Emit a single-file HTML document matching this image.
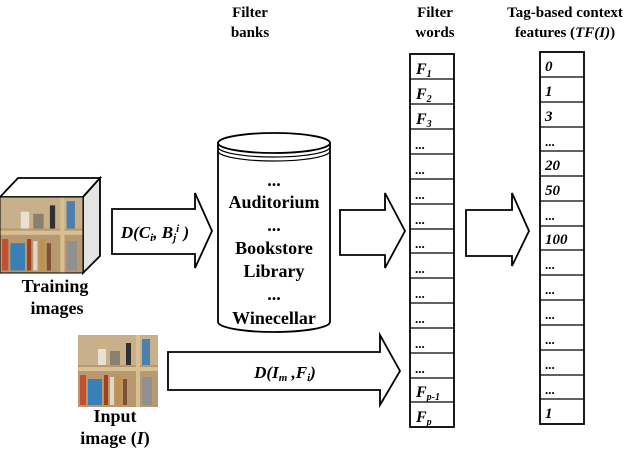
<!DOCTYPE html>
<html><head><style>
body{margin:0;background:#fff;width:640px;height:449px;overflow:hidden;font-family:"Liberation Serif",serif;}
svg text{font-family:"Liberation Serif",serif;font-weight:bold;}
</style></head><body>
<svg width="640" height="449" viewBox="0 0 640 449" xmlns="http://www.w3.org/2000/svg">
<defs>
<g id="shelf">
<rect x="0" y="0" width="80" height="72" fill="#b89870"/>
<rect x="0" y="0" width="80" height="30" fill="#c8b08a"/>
<rect x="0" y="32" width="80" height="4" fill="#d8c090"/>
<rect x="58" y="0" width="4" height="72" fill="#d8c090"/>
<rect x="64" y="4" width="8" height="26" fill="#4a7fb0"/>
<rect x="20" y="14" width="8" height="16" fill="#e8e0d0"/>
<rect x="32" y="16" width="10" height="14" fill="#8a8070"/>
<rect x="48" y="8" width="5" height="22" fill="#303030"/>
<rect x="2" y="40" width="6" height="30" fill="#c05030"/>
<rect x="10" y="44" width="14" height="26" fill="#3a80b8"/>
<rect x="26" y="40" width="4" height="30" fill="#a04020"/>
<rect x="32" y="42" width="4" height="28" fill="#e0d8c0"/>
<rect x="38" y="40" width="5" height="30" fill="#c09050"/>
<rect x="45" y="44" width="4" height="26" fill="#805030"/>
<rect x="64" y="42" width="10" height="28" fill="#909090"/>
</g>
</defs>
<g text-anchor="middle" font-size="15">
<text x="250" y="17">Filter</text><text x="250" y="37">banks</text>
<text x="435" y="17">Filter</text><text x="435" y="37">words</text>
<text x="565" y="17">Tag-based context</text><text x="565" y="37">features (<tspan font-style="italic">TF(I)</tspan>)</text>
</g>
<!-- cube -->
<polygon points="0,197 18,178 100,178 83,197" fill="#fff" stroke="#000" stroke-width="1.8"/>
<polygon points="83,197 100,178 100,256 83,273" fill="#e4e4e4" stroke="#000" stroke-width="1.8"/>
<g transform="translate(0,197) scale(1.04,1.05)"><use href="#shelf"/></g>
<rect x="0" y="197" width="83" height="76" fill="none" stroke="#000" stroke-width="1"/>
<g text-anchor="middle" font-size="18"><text x="55" y="292">Training</text><text x="57" y="314">images</text></g>
<!-- input image -->
<g transform="translate(78,335)"><use href="#shelf"/></g>
<g text-anchor="middle" font-size="18"><text x="115" y="422">Input</text><text x="115" y="444">image (<tspan font-style="italic">I</tspan>)</text></g>
<!-- arrow 1 -->
<polygon points="112,209 195,209 195,193 212,231 195,268 195,254 112,254" fill="#fff" stroke="#000" stroke-width="1.8"/>
<text x="155" y="238" text-anchor="middle" font-size="17" font-style="italic">D(C<tspan font-size="11" dy="3">i</tspan><tspan dy="-3">, B</tspan><tspan font-size="11" dy="3">j</tspan><tspan font-size="11" dy="-9">i</tspan><tspan dy="6"> )</tspan></text>
<!-- cylinder -->
<path d="M218,143 L218,322 A56,10 0 0 0 330,322 L330,143" fill="#fff" stroke="#000" stroke-width="1.8"/>
<ellipse cx="274" cy="143" rx="56" ry="10" fill="#fff" stroke="#000" stroke-width="1.8"/>
<path d="M218,147 A56,10 0 0 0 330,147 M218,151 A56,10 0 0 0 330,151" fill="none" stroke="#000" stroke-width="1.2"/>
<g text-anchor="middle" font-size="18">
<text x="274" y="186">...</text><text x="274" y="208">Auditorium</text>
<text x="274" y="231">...</text><text x="274" y="254">Bookstore</text>
<text x="274" y="277">Library</text><text x="274" y="300">...</text>
<text x="274" y="324">Winecellar</text>
</g>
<!-- arrow 2 -->
<polygon points="340,210 385,210 385,193 405,231 385,268 385,255 340,255" fill="#fff" stroke="#000" stroke-width="1.8"/>
<!-- arrow 3 -->
<polygon points="168,352 380,352 380,335 400,371 380,405 380,390 168,390" fill="#fff" stroke="#000" stroke-width="1.8"/>
<text x="285" y="378" text-anchor="middle" font-size="17" font-style="italic">D(I<tspan font-size="11" dy="3">m</tspan><tspan dy="-3"> ,F</tspan><tspan font-size="11" dy="3">i</tspan><tspan dy="-3">)</tspan></text>
<!-- arrow 4 -->
<polygon points="466,210 512,210 512,193 529,231 512,266 512,256 466,256" fill="#fff" stroke="#000" stroke-width="1.8"/>
<g stroke="#000" stroke-width="1.8" fill="#fff">
<rect x="410" y="54" width="44" height="373"/>
<rect x="540" y="52" width="44" height="372"/>
</g>
<g stroke="#000" stroke-width="1.3">
<line x1="410" y1="79" x2="454" y2="79"/><line x1="410" y1="104" x2="454" y2="104"/><line x1="410" y1="129" x2="454" y2="129"/><line x1="410" y1="154" x2="454" y2="154"/><line x1="410" y1="179" x2="454" y2="179"/><line x1="410" y1="204" x2="454" y2="204"/><line x1="410" y1="229" x2="454" y2="229"/><line x1="410" y1="253" x2="454" y2="253"/><line x1="410" y1="278" x2="454" y2="278"/><line x1="410" y1="303" x2="454" y2="303"/><line x1="410" y1="328" x2="454" y2="328"/><line x1="410" y1="353" x2="454" y2="353"/><line x1="410" y1="378" x2="454" y2="378"/><line x1="410" y1="402" x2="454" y2="402"/>
<line x1="540" y1="77" x2="584" y2="77"/><line x1="540" y1="102" x2="584" y2="102"/><line x1="540" y1="127" x2="584" y2="127"/><line x1="540" y1="151" x2="584" y2="151"/><line x1="540" y1="176" x2="584" y2="176"/><line x1="540" y1="201" x2="584" y2="201"/><line x1="540" y1="226" x2="584" y2="226"/><line x1="540" y1="250" x2="584" y2="250"/><line x1="540" y1="275" x2="584" y2="275"/><line x1="540" y1="300" x2="584" y2="300"/><line x1="540" y1="325" x2="584" y2="325"/><line x1="540" y1="350" x2="584" y2="350"/><line x1="540" y1="375" x2="584" y2="375"/><line x1="540" y1="399" x2="584" y2="399"/>
</g>
<g font-size="16" font-style="italic">
<text x="416" y="74">F<tspan font-size="10" dy="3">1</tspan></text>
<text x="416" y="99">F<tspan font-size="10" dy="3">2</tspan></text>
<text x="416" y="124">F<tspan font-size="10" dy="3">3</tspan></text>
<text x="416" y="397">F<tspan font-size="10" dy="3">p-1</tspan></text>
<text x="416" y="422">F<tspan font-size="10" dy="3">p</tspan></text>
</g>
<g font-size="13">
<text x="415" y="149">...</text><text x="415" y="174">...</text><text x="415" y="199">...</text><text x="415" y="224">...</text><text x="415" y="248">...</text><text x="415" y="273">...</text><text x="415" y="298">...</text><text x="415" y="323">...</text><text x="415" y="348">...</text><text x="415" y="373">...</text>
</g>
<g font-size="15" font-style="italic">
<text x="545" y="71">0</text><text x="545" y="96">1</text><text x="545" y="121">3</text>
<text x="545" y="170">20</text><text x="545" y="195">50</text><text x="545" y="244">100</text>
<text x="545" y="418">1</text>
</g>
<g font-size="13">
<text x="545" y="146">...</text><text x="545" y="220">...</text><text x="545" y="269">...</text><text x="545" y="294">...</text><text x="545" y="319">...</text><text x="545" y="344">...</text><text x="545" y="369">...</text><text x="545" y="394">...</text>
</g>
</svg>
</body></html>
